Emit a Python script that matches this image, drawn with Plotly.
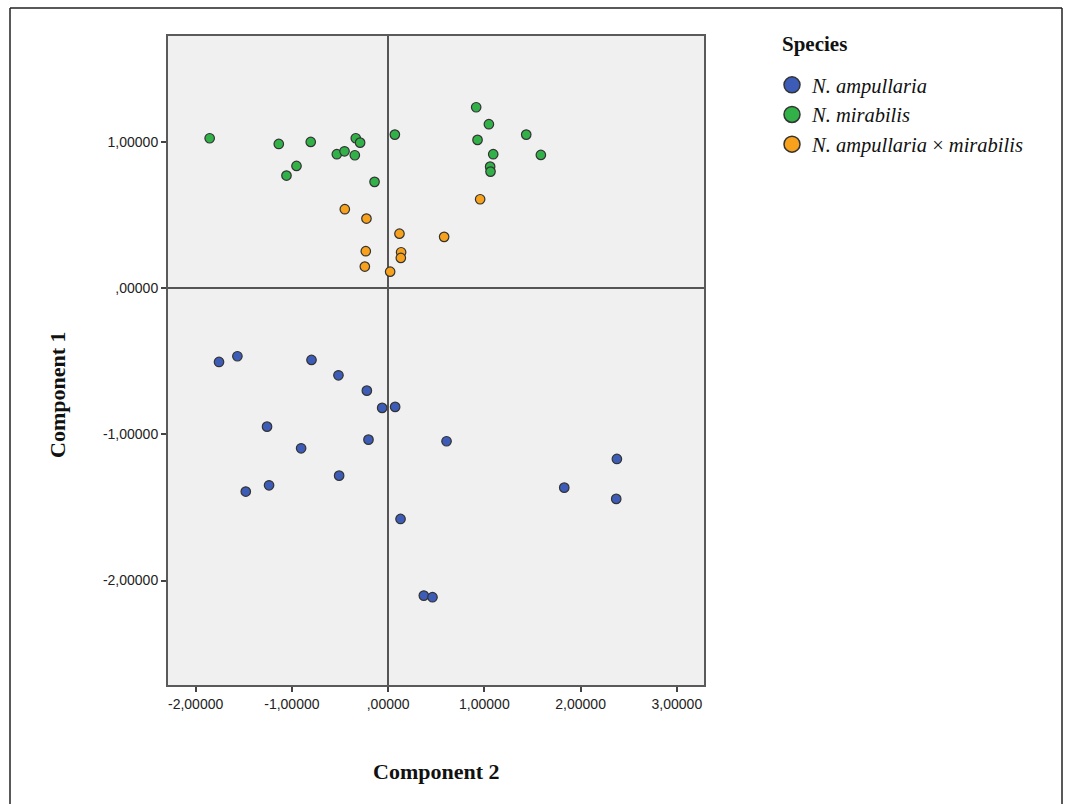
import plotly.graph_objects as go

# ---- data (Component 2 = x, Component 1 = y) ----
amp_x = [-1.757, -1.566, -0.796, -0.516, -0.221, -0.062, 0.073, -1.258, -0.904, -0.204,
         0.607, -0.509, -1.237, -1.479, 0.129, 2.377, 1.830, 2.370, 0.371, 0.461]
amp_y = [-0.506, -0.467, -0.492, -0.597, -0.702, -0.820, -0.813, -0.948, -1.096, -1.037,
         -1.048, -1.283, -1.349, -1.392, -1.579, -1.169, -1.365, -1.442, -2.103, -2.114]

mir_x = [-1.854, -1.136, -0.804, -0.952, -1.056, -0.533, -0.453, -0.336, -0.291, -0.346,
         -0.141, 0.070, 0.915, 1.047, 0.929, 1.435, 1.092, 1.587, 1.060, 1.064]
mir_y = [1.023, 0.984, 0.998, 0.834, 0.768, 0.914, 0.934, 1.023, 0.993, 0.907,
         0.725, 1.048, 1.235, 1.119, 1.012, 1.048, 0.914, 0.909, 0.829, 0.795]

hyb_x = [-0.450, -0.225, 0.118, -0.232, 0.135, 0.132, -0.242, 0.021, 0.582, 0.956]
hyb_y = [0.538, 0.474, 0.371, 0.251, 0.244, 0.205, 0.146, 0.111, 0.349, 0.606]

species = ["<i>N. ampullaria</i>", "<i>N. mirabilis</i>", "<i>N. ampullaria</i> × <i>mirabilis</i>"]
colors = ["#3d5cb8", "#33b149", "#f7a11c"]

x_ticks = [-2, -1, 0, 1, 2, 3]
x_labels = ["-2,00000", "-1,00000", ",00000", "1,00000", "2,00000", "3,00000"]
y_ticks = [-2, -1, 0, 1]
y_labels = ["-2,00000", "-1,00000", ",00000", "1,00000"]

fig = go.Figure()
for i, (xs, ys) in enumerate([(amp_x, amp_y), (mir_x, mir_y), (hyb_x, hyb_y)]):
    fig.add_trace(go.Scatter(
        x=xs, y=ys, mode="markers", showlegend=False,
        marker=dict(size=9.5, color=colors[i], line=dict(color="#333333", width=1.2)),
    ))
# legend entries
for i, name in enumerate(species):
    fig.add_trace(go.Scatter(
        x=[None], y=[None], mode="markers", name=name, legendgroup=f"g{i}",
        marker=dict(size=18, color=colors[i], line=dict(color="#333333", width=1.5)),
    ))

L, R, T, B = 168, 704, 36, 685
W, H = 1065, 804
pw, ph = R - L, B - T

def px(xp):
    return (xp - L) / pw

def py(yp):
    return (B - yp) / ph

axis_common = dict(
    showgrid=False, zeroline=True, zerolinecolor="#555555", zerolinewidth=1.6,
    showline=True, linecolor="#5a5a5a", linewidth=2, mirror=True,
    ticks="outside", ticklen=5, tickwidth=2, tickcolor="#444444",
    tickfont=dict(family="Liberation Sans, Arial", size=14, color="#222222"),
)

serif = "Liberation Serif, Times New Roman"

fig.update_layout(
    width=W, height=H,
    margin=dict(l=L, r=W - R, t=T, b=H - B, pad=0),
    paper_bgcolor="white", plot_bgcolor="#f0f0f0",
    xaxis=dict(range=[-2.287, 3.282], tickvals=x_ticks, ticktext=x_labels, **axis_common),
    yaxis=dict(range=[-2.714, 1.722], tickvals=y_ticks, ticktext=y_labels, **axis_common),
    showlegend=True,
    legend=dict(
        x=px(772), y=py(65), xanchor="left", yanchor="top",
        font=dict(family=serif, size=20.5, color="#111111"),
        bgcolor="rgba(0,0,0,0)", traceorder="grouped", tracegroupgap=0,
    ),
    annotations=[
        dict(text="<b>Species</b>", x=px(780), y=py(44), xref="paper", yref="paper",
             showarrow=False, xanchor="left", yanchor="middle",
             font=dict(family=serif, size=21, color="#111111")),
        dict(text="<b>Component 2</b>", x=px(436), y=py(771), xref="paper", yref="paper",
             showarrow=False, xanchor="center", yanchor="middle",
             font=dict(family=serif, size=22, color="#111111")),
        dict(text="<b>Component 1</b>", x=px(58), y=py(395), xref="paper", yref="paper",
             showarrow=False, xanchor="center", yanchor="middle", textangle=-90,
             font=dict(family=serif, size=22, color="#111111")),
    ],
    shapes=[
        dict(type="line", xref="paper", yref="paper", x0=px(10), x1=px(1062), y0=py(8), y1=py(8),
             line=dict(color="#222222", width=1.5)),
        dict(type="line", xref="paper", yref="paper", x0=px(10), x1=px(10), y0=py(8), y1=py(810),
             line=dict(color="#222222", width=1.5)),
        dict(type="line", xref="paper", yref="paper", x0=px(1062), x1=px(1062), y0=py(8), y1=py(810),
             line=dict(color="#222222", width=1.5)),
    ],
)

fig.write_html("out.html", config={"displayModeBar": False},
               post_script="document.body.style.margin='0';")
